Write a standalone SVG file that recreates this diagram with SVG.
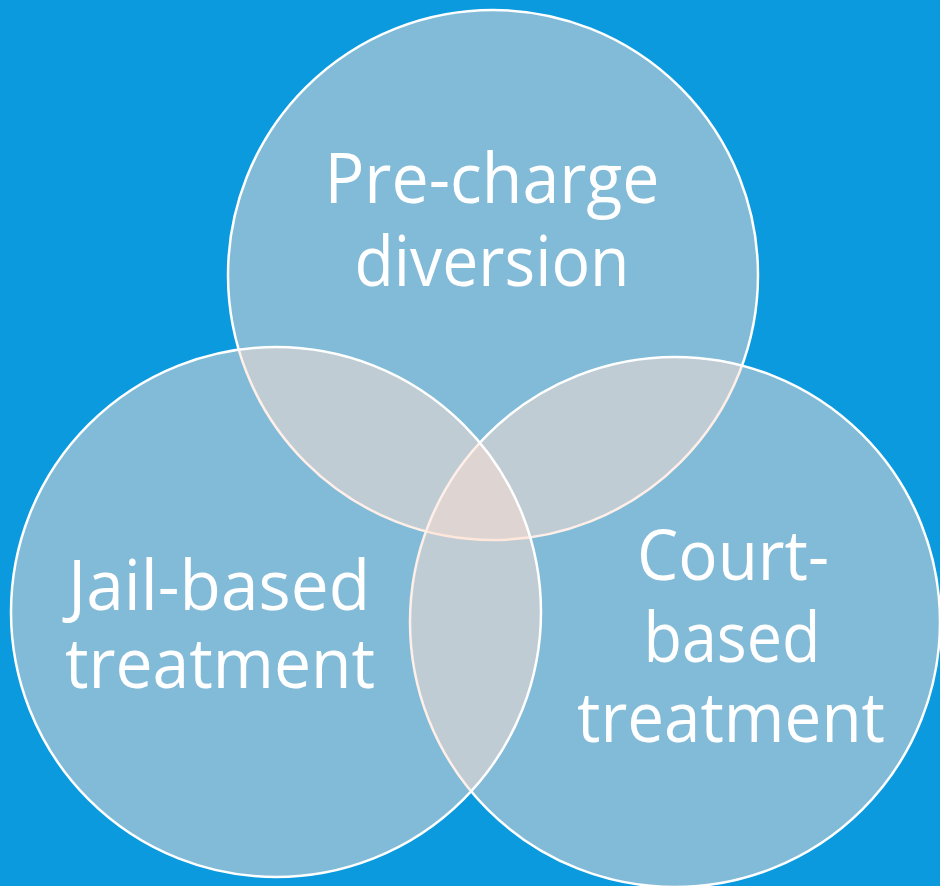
<svg xmlns="http://www.w3.org/2000/svg" width="940" height="886" viewBox="0 0 940 886">
  <style>
    .set { fill: #fedfd0; fill-opacity: 0.49; stroke: #ffffff; stroke-width: 2.5; }
    .label { font-family: "Open Sans", "Noto Sans", sans-serif; font-size: 70px; fill: #ffffff; text-anchor: middle; }
  </style>
  <rect width="940" height="886" fill="#0b9ade"/>
  <g id="pre-charge">
    <circle class="set" cx="493" cy="275" r="265"/>
  </g>
  <g id="court-based">
    <circle class="set" cx="675" cy="622" r="265"/>
  </g>
  <g id="jail-based">
    <circle class="set" cx="276" cy="612" r="265"/>
  </g>
  <g id="labels">
    <text class="label" x="492" y="203" textLength="335" lengthAdjust="spacingAndGlyphs">Pre-charge</text>
    <text class="label" x="492" y="286" textLength="275" lengthAdjust="spacingAndGlyphs">diversion</text>
    <text class="label" x="219" y="610" textLength="302" lengthAdjust="spacingAndGlyphs">Jail-based</text>
    <text class="label" x="220" y="688" textLength="310" lengthAdjust="spacingAndGlyphs">treatment</text>
    <text class="label" x="733" y="580" textLength="192" lengthAdjust="spacingAndGlyphs">Court-</text>
    <text class="label" x="732" y="662" textLength="177" lengthAdjust="spacingAndGlyphs">based</text>
    <text class="label" x="731" y="742" textLength="308" lengthAdjust="spacingAndGlyphs">treatment</text>
  </g>
</svg>
